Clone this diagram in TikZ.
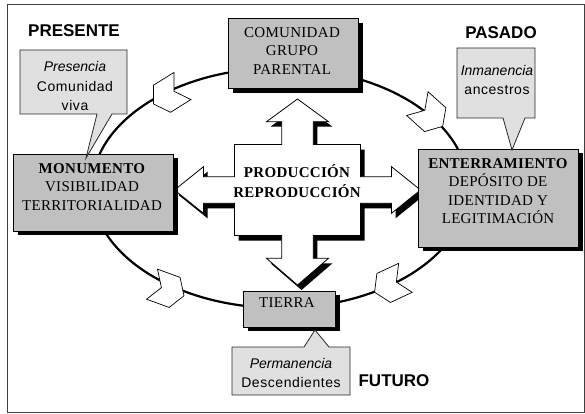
\documentclass[tikz,border=0pt]{standalone}
\usepackage{fontspec}
\setmainfont{Liberation Serif}[LetterSpace=2]
\setsansfont{Liberation Sans}[LetterSpace=4, ItalicFeatures={LetterSpace=0}]
\newfontfamily\etiquetafont{Liberation Sans}
\newlength{\du}
\setlength{\du}{1pt}
\definecolor{cajagris}{rgb}{0.753, 0.753, 0.753}
\definecolor{nubegris}{rgb}{0.878, 0.878, 0.878}
\tikzset{
  caja/.style={draw=black, fill=cajagris, line width=1\du, inner sep=0pt,
    preaction={fill=black, transform canvas={xshift=5\du, yshift=-4\du}}},
  cajatexto/.style={align=center, inner sep=0pt, font=\fontsize{15}{18.5}\selectfont},
  cruz/.style={draw=black, fill=white, line width=0.8\du,
    preaction={fill=black, transform canvas={xshift=4\du, yshift=-5\du}}},
  nube/.style={draw=black!85, fill=nubegris, line width=0.8\du},
  nubetexto/.style={align=center, inner sep=0pt, font=\sffamily\fontsize{14}{19.5}\selectfont},
  chevron/.style={draw=black, fill=white, line width=0.7\du},
  etiqueta/.style={inner sep=0pt, font=\etiquetafont\bfseries\fontsize{17}{20}\selectfont}
}

\begin{document}
\begin{tikzpicture}
\pgftransformxscale{1.000000}
\pgftransformyscale{-1.000000}
\useasboundingbox (0\du,0\du) rectangle (585\du,414\du);
% marco
\definecolor{dialinecolor}{rgb}{0.250000, 0.250000, 0.250000}
\pgfsetstrokecolor{dialinecolor}
\draw[line width=1\du] (7\du,5\du) rectangle (584\du,412\du);
% ciclo
\definecolor{dialinecolor}{rgb}{0.000000, 0.000000, 0.000000}
\pgfsetstrokecolor{dialinecolor}
\draw[line width=2.2\du] (280\du,188\du) ellipse [x radius=188\du, y radius=120\du];
% flechas del ciclo
\draw[chevron, shift={(168\du,95\du)}, rotate=148] (-17\du,-16\du) -- (7\du,-16\du) -- (17\du,0\du) -- (7\du,16\du) -- (-17\du,16\du) -- (-7\du,0\du) -- cycle;
\draw[chevron, shift={(430\du,115\du)}, rotate=42] (-17\du,-16\du) -- (7\du,-16\du) -- (17\du,0\du) -- (7\du,16\du) -- (-17\du,16\du) -- (-7\du,0\du) -- cycle;
\draw[chevron, shift={(168\du,290\du)}, rotate=20] (-17\du,-16\du) -- (7\du,-16\du) -- (17\du,0\du) -- (7\du,16\du) -- (-17\du,16\du) -- (-7\du,0\du) -- cycle;
\draw[chevron, shift={(390\du,285\du)}, rotate=155] (-17\du,-16\du) -- (7\du,-16\du) -- (17\du,0\du) -- (7\du,16\du) -- (-17\du,16\du) -- (-7\du,0\du) -- cycle;
% cruz central
\draw[cruz] (297.5\du,99\du) -- (328.5\du,121.7\du) -- (313.3\du,121.7\du) -- (313.3\du,144.5\du)
  -- (360.5\du,144.5\du) -- (360.5\du,176.7\du) -- (391.5\du,176.7\du) -- (391.5\du,166.7\du)
  -- (420.5\du,190\du) -- (391.5\du,213.3\du) -- (391.5\du,203.3\du) -- (360.5\du,203.3\du)
  -- (360.5\du,235.5\du) -- (313.3\du,235.5\du) -- (313.3\du,258.3\du) -- (328.5\du,258.3\du)
  -- (297.5\du,285\du) -- (266.5\du,258.3\du) -- (281.7\du,258.3\du) -- (281.7\du,235.5\du)
  -- (234.5\du,235.5\du) -- (234.5\du,203.3\du) -- (203.5\du,203.3\du) -- (203.5\du,213.3\du)
  -- (174.5\du,190\du) -- (203.5\du,166.7\du) -- (203.5\du,176.7\du) -- (234.5\du,176.7\du)
  -- (234.5\du,144.5\du) -- (281.7\du,144.5\du) -- (281.7\du,121.7\du) -- (266.5\du,121.7\du) -- cycle;
\node[cajatexto, font=\bfseries\fontsize{15}{20}\selectfont] (produccion) at (297\du,181\du){PRODUCCIÓN\\REPRODUCCIÓN};
% cajas
\node[caja, minimum width=130\du, minimum height=70\du] (comunidad) at (293\du,54\du){};
\node[cajatexto] (comunidadtexto) at (292\du,51\du){COMUNIDAD\\GRUPO\\PARENTAL};
\node[caja, minimum width=160\du, minimum height=77\du] (monumento) at (93\du,192.5\du){};
\node[cajatexto] (monumentotexto) at (92\du,187\du){\textbf{MONUMENTO}\\VISIBILIDAD\\TERRITORIALIDAD};
\node[caja, minimum width=160\du, minimum height=98\du] (enterramiento) at (498\du,198\du){};
\node[cajatexto] (enterramientotexto) at (498\du,191\du){\textbf{ENTERRAMIENTO}\\DEPÓSITO DE\\IDENTIDAD Y\\LEGITIMACIÓN};
\node[caja, minimum width=92\du, minimum height=36\du] (tierra) at (289\du,309\du){};
\node[cajatexto] (tierratexto) at (287\du,303\du){TIERRA};
% llamadas
\draw[nube] (20\du,50\du) -- (127\du,50\du) -- (127\du,114\du) -- (112\du,114\du) -- (86\du,158\du) -- (97\du,114\du) -- (20\du,114\du) -- cycle;
\node[nubetexto] (presencia) at (75\du,86\du){\textit{Presencia}\\Comunidad\\viva};
\draw[nube] (457\du,48\du) -- (535\du,48\du) -- (535\du,118\du) -- (525\du,118\du) -- (512\du,150\du) -- (503\du,118\du) -- (457\du,118\du) -- cycle;
\node[nubetexto] (inmanencia) at (497\du,80\du){\textit{Inmanencia}\\ancestros};
\draw[nube] (232\du,347\du) -- (304\du,347\du) -- (315\du,330\du) -- (329\du,347\du) -- (350\du,347\du) -- (350\du,395\du) -- (232\du,395\du) -- cycle;
\node[nubetexto] (permanencia) at (291\du,373\du){\textit{Permanencia}\\Descendientes};
% tiempos
\node[etiqueta] (presente) at (74\du,31\du){PRESENTE};
\node[etiqueta] (pasado) at (501\du,33\du){PASADO};
\node[etiqueta] (futuro) at (394\du,381\du){FUTURO};
\end{tikzpicture}
\end{document}
